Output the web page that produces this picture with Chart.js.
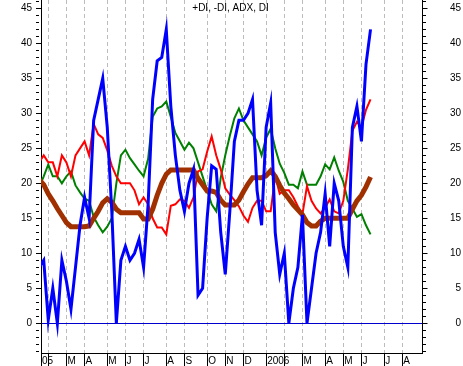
<!DOCTYPE html>
<html>
<head>
<meta charset="UTF-8">
<title>+DI, -DI, ADX, DI</title>
<style>
  body { margin: 0; background: #fff; }
  canvas { display: block; }
</style>
<script src="https://cdn.jsdelivr.net/npm/chart.js"></script>
</head>
<body>
<canvas id="dmi" width="463" height="366"></canvas>
<script>
  // one value per week, week 0 = last week of Jan 2005
  const diValues = [8, 9, 0.5, 5, 0, 9, 6, 2, 8, 14,
    18, 15, 29, 32, 35, 28, 16, 0, 9, 11,
    9, 10, 12, 8, 17, 32, 37.5, 38, 42, 31,
    24, 19, 16, 20, 22, 4, 5, 15, 22.5, 22,
    13, 7, 16, 26, 29, 29, 30, 32, 19, 14,
    28, 31.5, 13, 7, 10, 0, 5, 8, 15.5, 0,
    5, 10, 13, 18.5, 11, 20, 17.5, 11, 8, 28,
    31, 26, 37, 42];
  const minusDiValues = [23, 24, 23, 23, 21, 24, 23, 21, 24, 25,
    26, 24, 28.5, 27, 26.5, 24.7, 22.5, 21, 20, 20,
    20, 19, 17, 18, 17, 15, 13.7, 13.7, 12.7, 16.8,
    17, 17.7, 17.5, 16.5, 18, 21.7, 22, 24.5, 26.7, 24,
    22, 19.3, 18.4, 17.6, 16.7, 15.4, 14.5, 16.5, 17.5, 17.5,
    16, 16, 21, 18.5, 19, 19, 18, 16.7, 15.6, 19.6,
    17.5, 16.4, 15.7, 16.5, 17.7, 16, 15.7, 17.5, 22, 27.5,
    28.8, 28, 30.5, 32];
  const plusDiValues = [19.5, 21, 22.7, 21, 21, 20, 21, 21.7, 19.7, 18.7,
    17.8, 17.5, 15.2, 14, 13, 13.8, 15, 20, 24, 24.8,
    23.6, 22.7, 21.8, 21, 23.5, 29.5, 30.7, 31, 31.7, 29.5,
    27.2, 26, 24.8, 25.8, 25, 23, 21, 19, 17, 16,
    20.8, 24, 26.8, 29.3, 30.7, 29, 28, 27, 26, 24,
    26.5, 27.8, 25, 22.8, 21.5, 19.8, 19.8, 19.3, 21.7, 19.8,
    19.8, 19.8, 21, 22.7, 22, 23.7, 21.8, 20.2, 17.5, 16.4,
    15.2, 15.6, 14, 12.7];
  const adxValues = [20.5, 19.8, 18.5, 17.5, 16.4, 15.4, 14.4, 13.8, 13.8, 13.8,
    13.8, 13.9, 15, 16, 17.2, 17.8, 17.3, 16.3, 15.8, 15.8,
    15.8, 15.8, 15.8, 14.9, 14.9, 16.3, 18.3, 20, 21.3, 21.9,
    21.9, 21.9, 21.9, 21.9, 21.9, 20.7, 19.8, 18.9, 18.9, 18.7,
    17.6, 16.9, 16.9, 16.9, 17.6, 18.8, 19.9, 20.8, 20.8, 20.8,
    21.1, 21.8, 21, 19.7, 18.6, 17.8, 16.9, 16.2, 15.5, 14.4,
    13.9, 13.9, 14.6, 15, 15, 15, 15, 15, 15, 16.3,
    17.5, 18.3, 19.5, 20.9];

  // first week of each month, Feb 2005 .. Aug 2006
  const monthWeeks = [2, 6, 10, 15, 19, 23, 28, 32, 37, 41, 45, 50, 54, 58, 63, 67, 71, 76, 80];
  // Feb labels are hidden under the year labels
  const monthLabels = ['', 'M', 'A', 'M', 'J', 'J', 'A', 'S', 'O', 'N', 'D', '2006', '', 'M', 'A', 'M', 'J', 'J', 'A'];
  const yearFragment = '05';

  const X_MIN = 0.4, X_MAX = 84.45;
  const Y_MIN = -4.25, Y_MAX = 46.2;

  Chart.defaults.font.family = "'Liberation Sans', Arial, sans-serif";
  Chart.defaults.font.size = 10;
  Chart.defaults.color = '#000';

  const toPoints = arr => arr.map((v, i) => ({ x: i, y: v }));
  const clear = 'rgba(0,0,0,0)';

  function yTicks(scale) {
    const t = [];
    for (let v = -4; v <= 46; v++) t.push({ value: v });
    scale.ticks = t;
  }
  const yLabel = v => (v >= 0 && v % 5 === 0) ? String(v) : '';
  const minorDash = ctx => (ctx.tick && ctx.tick.value % 5 !== 0) ? [3, 30] : [];

  new Chart(document.getElementById('dmi'), {
    type: 'line',
    data: {
      datasets: [
        { label: 'DI', data: toPoints(diValues), borderColor: '#0000ff', borderWidth: 3 },
        { label: 'ADX', data: toPoints(adxValues), borderColor: '#a03000', borderWidth: 5 },
        { label: '-DI', data: toPoints(minusDiValues), borderColor: '#ff0000', borderWidth: 2 },
        { label: '+DI', data: toPoints(plusDiValues), borderColor: '#008000', borderWidth: 2 }
      ]
    },
    options: {
      responsive: false,
      animation: false,
      devicePixelRatio: 1,
      layout: { padding: { left: 0, right: 2, top: 0, bottom: 0 } },
      elements: {
        point: { radius: 0 },
        line: { tension: 0, fill: false }
      },
      datasets: { line: { clip: 0 } },
      plugins: {
        legend: { display: false },
        tooltip: { enabled: false },
        title: {
          display: true,
          text: '+DI, -DI, ADX, DI',
          color: '#000',
          font: { size: 10, weight: 'normal' },
          padding: { top: 2, bottom: -14 }
        }
      },
      scales: {
        x: {
          type: 'linear',
          min: X_MIN,
          max: X_MAX,
          afterBuildTicks(scale) {
            scale.ticks = [{ value: X_MIN }].concat(monthWeeks.map(w => ({ value: w })));
          },
          afterFit(scale) {
            scale.height = 13;
            scale.paddingLeft = 0;
            scale.paddingRight = 0;
          },
          ticks: {
            autoSkip: false,
            maxRotation: 0,
            minRotation: 0,
            align: 'start',
            labelOffset: 1,
            padding: -11,
            callback: (v, i) => i === 0 ? yearFragment : monthLabels[i - 1]
          },
          grid: {
            color: ctx => ctx.index === 0 ? clear : '#bcbcbc',
            lineWidth: 1,
            tickLength: 13,
            tickColor: '#000',
            tickBorderDash: []
          },
          border: { color: '#000', width: 1, dash: [4, 3] }
        },
        y: {
          type: 'linear',
          position: 'left',
          min: Y_MIN,
          max: Y_MAX,
          afterBuildTicks: yTicks,
          afterFit(scale) {
            scale.width = 41;
            scale.paddingTop = 0;
            scale.paddingBottom = 0;
          },
          ticks: { autoSkip: false, padding: 4, callback: yLabel },
          grid: {
            drawOnChartArea: true,
            color: ctx => (ctx.tick && ctx.tick.value === 0) ? '#0000cc' : clear,
            tickLength: 5,
            tickColor: '#000',
            tickBorderDash: minorDash
          },
          border: { color: '#000', width: 1 }
        },
        y2: {
          type: 'linear',
          position: 'right',
          min: Y_MIN,
          max: Y_MAX,
          afterBuildTicks: yTicks,
          afterFit(scale) {
            scale.width = 38.5;
            scale.paddingTop = 0;
            scale.paddingBottom = 0;
          },
          ticks: { autoSkip: false, crossAlign: 'far', callback: yLabel },
          grid: {
            drawOnChartArea: false,
            tickLength: 5,
            tickColor: '#000',
            tickBorderDash: minorDash
          },
          border: { color: '#000', width: 1 }
        }
      }
    }
  });
</script>
</body>
</html>
